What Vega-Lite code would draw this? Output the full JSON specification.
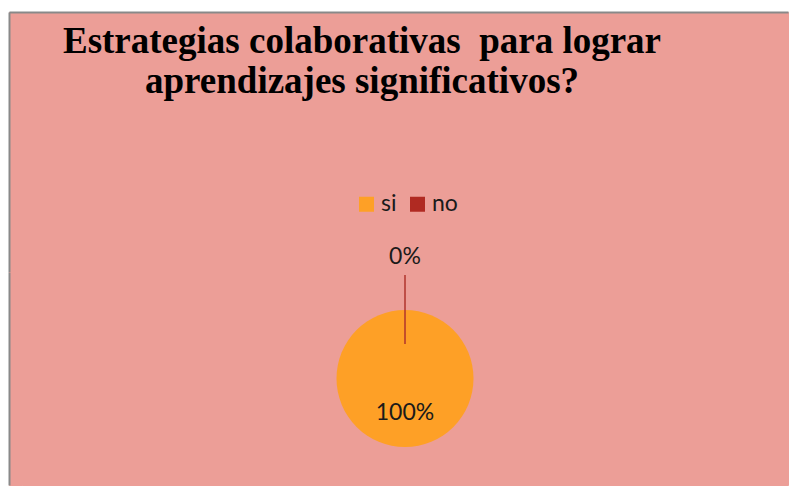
{
  "$schema": "https://vega.github.io/schema/vega-lite/v6.json",
  "background": "white",
  "padding": {"left": 8, "top": 11, "right": 0, "bottom": 0},
  "spacing": 0,
  "bounds": "flush",
  "config": {
    "view": {"fill": "#EC9E97", "stroke": "#EC9E97", "strokeWidth": 1},
    "concat": {"spacing": 0},
    "axis": {
      "domainColor": "#898989",
      "domainWidth": 2,
      "ticks": false,
      "labels": false,
      "grid": false,
      "title": null,
      "minExtent": 0,
      "maxExtent": 0,
      "offset": 0,
      "labelPadding": 0,
      "tickSize": 0,
      "titlePadding": 0
    },
    "legend": {
      "padding": 0,
      "symbolType": "square",
      "symbolSize": 225,
      "symbolStrokeWidth": 0,
      "labelFont": "Lato",
      "labelFontSize": 23,
      "labelColor": "#1a1a1a",
      "labelOffset": 3,
      "columnPadding": 9
    }
  },
  "datasets": {
    "respuestas": [
      {"respuesta": "si", "porcentaje": 1},
      {"respuesta": "no", "porcentaje": 0}
    ]
  },
  "vconcat": [
    {
      "width": 779,
      "height": 260,
      "view": {"fill": "#EC9E97", "stroke": "#EC9E97", "strokeWidth": 1},
      "title": {
        "text": ["Estrategias colaborativas\u00a0 para lograr", "aprendizajes significativos?"],
        "font": "Liberation Serif",
        "fontSize": 37,
        "fontWeight": "bold",
        "color": "black",
        "anchor": "middle",
        "frame": "group",
        "dx": -36.5,
        "offset": -89,
        "lineHeight": 40
      },
      "data": {"values": [{"vacio": 0}]},
      "mark": {"type": "point", "opacity": 0, "size": 0},
      "encoding": {
        "x": {"datum": 0, "type": "quantitative", "axis": {"orient": "top"}},
        "y": {"datum": 0, "type": "quantitative", "axis": {"orient": "left"}}
      }
    },
    {
      "spacing": 0,
      "bounds": "flush",
      "hconcat": [
        {
          "width": 13,
          "height": 213,
          "view": {"fill": "#EC9E97", "stroke": "#EC9E97", "strokeWidth": 1},
          "data": {"values": [{"vacio": 0}]},
          "mark": {"type": "point", "opacity": 0, "size": 0},
          "encoding": {
            "y": {"datum": 0, "type": "quantitative", "axis": {"orient": "left"}}
          }
        },
        {
          "width": 766,
          "height": 213,
          "view": {"fill": "#EC9E97", "stroke": "#EC9E97", "strokeWidth": 1},
          "data": {"name": "respuestas"},
          "encoding": {
            "theta": {"field": "porcentaje", "type": "quantitative", "stack": true}
          },
          "layer": [
            {
              "mark": {"type": "arc", "radius": 68.5},
              "encoding": {
                "color": {
                  "field": "respuesta",
                  "type": "nominal",
                  "scale": {"domain": ["si", "no"], "range": ["#FEA026", "#B02A22"]},
                  "legend": {
                    "title": null,
                    "orient": "none",
                    "direction": "horizontal",
                    "legendX": 346,
                    "legendY": 180.5
                  }
                }
              }
            },
            {
              "transform": [{"filter": "datum.respuesta === 'no'"}],
              "mark": {"type": "arc", "radius": 103.5, "radius2": 34.5, "fill": "transparent", "stroke": "#B0352C", "strokeWidth": 1}
            },
            {
              "transform": [{"filter": "datum.respuesta === 'si'"}],
              "mark": {"type": "text", "radius": 34, "font": "Lato", "fontSize": 23, "color": "#1a1a1a"},
              "encoding": {"text": {"field": "porcentaje", "type": "quantitative", "format": ".0%"}}
            },
            {
              "transform": [{"filter": "datum.respuesta === 'no'"}],
              "mark": {"type": "text", "radius": 121.5, "font": "Lato", "fontSize": 23, "color": "#1a1a1a"},
              "encoding": {"text": {"field": "porcentaje", "type": "quantitative", "format": ".0%"}}
            }
          ]
        }
      ]
    }
  ]
}
